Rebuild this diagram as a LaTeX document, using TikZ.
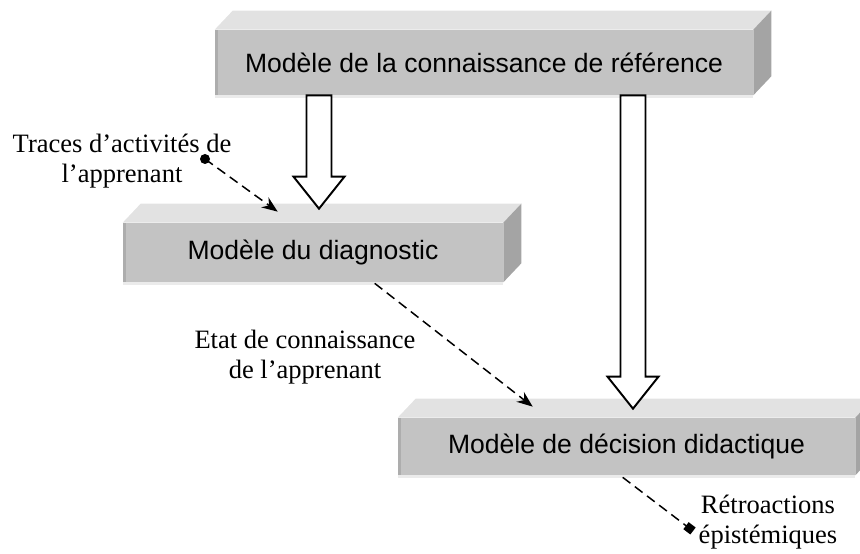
\documentclass[tikz,border=0pt]{standalone}
\usepackage{fontspec}
\setmainfont{Liberation Serif}
\setsansfont{Liberation Sans}
\usetikzlibrary{calc,arrows.meta,positioning}
\definecolor{frontgray}{HTML}{C3C3C3}
\definecolor{topgray}{HTML}{E2E2E2}
\definecolor{sidegray}{HTML}{A4A4A4}
\definecolor{edgegray}{HTML}{ADADAD}
\tikzset{>=stealth}
\tikzset{%
    slab/.style={fill=frontgray, inner sep=0pt,
        font=\sffamily\fontsize{15.1}{18}\selectfont},
    note/.style={align=center, inner sep=0pt,
        font=\fontsize{15.1}{17}\selectfont},
    hollow/.style={draw, fill=white, line width=1.1pt, line join=miter},
    flow/.style={dash pattern=on 5.5pt off 3.2pt, line width=0.85pt,
        -{Stealth[length=9pt,width=7pt]}}
}
% big white arrow: #1 start (shaft top), #2 tip
\newcommand{\hollowarrow}[2]{%
    \draw[hollow] let \p1=(#1), \p2=(#2) in
        (\x2-0.25cm,\y1) -- (\x2-0.25cm,\y2+0.64cm) -- (\x2-0.51cm,\y2+0.64cm)
        -- (\x2,\y2) -- (\x2+0.51cm,\y2+0.64cm) -- (\x2+0.25cm,\y2+0.64cm)
        -- (\x2+0.25cm,\y1) -- cycle;
}

\begin{document}
\begin{tikzpicture}[x=0.02cm,y=-0.02cm]
    \useasboundingbox (0,0) rectangle (860,554);

    \node[slab, minimum width=10.76cm, minimum height=1.3cm] (ref) at (484,62.5)
        {Modèle de la connaissance de référence};
    \node[slab, minimum width=7.6cm, minimum height=1.18cm] (diag) at (313,252.5)
        {Modèle du diagnostic};
    \node[slab, minimum width=9.14cm, minimum height=1.14cm] (dec) at (626.5,446.5)
        {Modèle de décision didactique};

    % faces of the slabs
    \foreach \n in {ref,diag,dec} {
        \fill[topgray] (\n.north west) -- ++(18,-19) -- ($(\n.north east)+(18,-19)$)
            -- (\n.north east) -- cycle;
        \fill[sidegray] (\n.north east) -- ++(18,-19) -- ($(\n.south east)+(18,-19)$)
            -- (\n.south east) -- cycle;
        \fill[edgegray] (\n.north west) rectangle ($(\n.south west)+(3,0)$);
        \fill[topgray!70] (\n.south west) rectangle ($(\n.south east)+(0,3)$);
    }

    \coordinate (a1) at (319,0);
    \coordinate (a2) at (633,0);
    \hollowarrow{ref.south -| a1}{$(diag.north -| a1)+(0,-14)$}
    \hollowarrow{ref.south -| a2}{$(dec.north -| a2)+(0,-9)$}

    \node[note] (traces) at (122,161) {Traces d’activités de\\l’apprenant};
    \node[note] (etat) at (305,357) {Etat de connaissance\\de l’apprenant};
    \node[note] (retro) at (768,522) {Rétroactions\\épistémiques};

    \coordinate (tstart) at (205,159);
    \coordinate (rend) at (693,531);
    \fill (tstart) circle (5);
    \draw[flow] (tstart) -- ($(diag.north west)+(155,-11)$);
    \draw[flow] ($(diag.south west)+(252,1)$) -- ($(dec.north west)+(135,-11)$);
    \draw[flow, -{Square[length=5pt,width=5pt]}] ($(dec.south west)+(225,2)$) -- (rend);
\end{tikzpicture}
\end{document}
